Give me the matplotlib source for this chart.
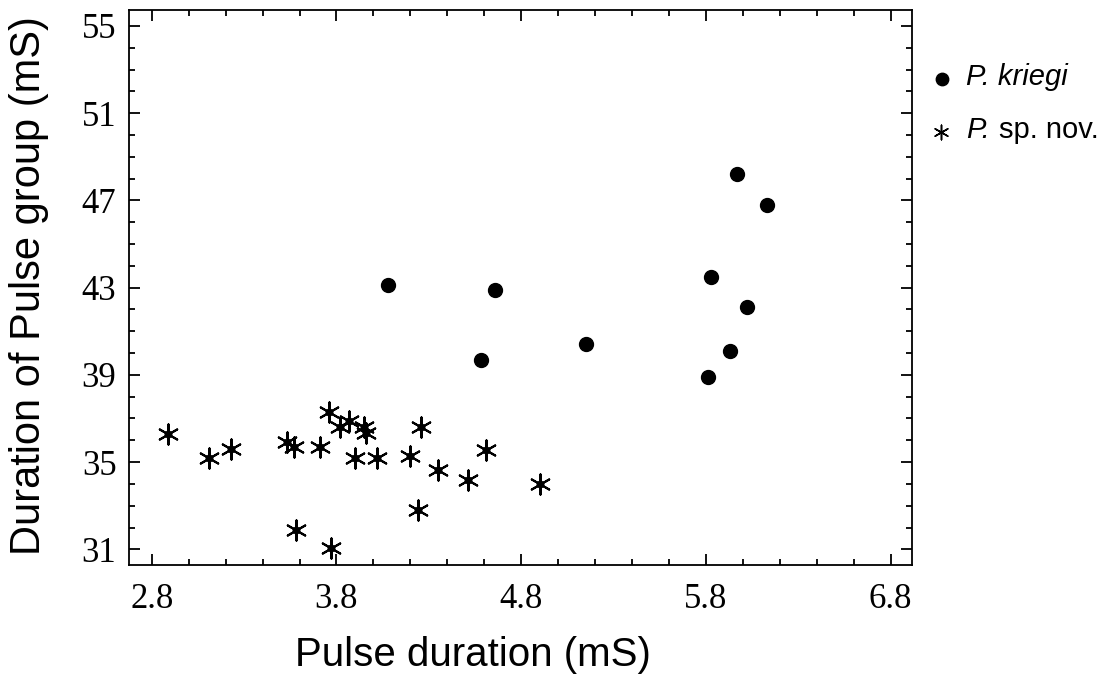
import matplotlib
matplotlib.use("Agg")
import matplotlib.pyplot as plt
from matplotlib.ticker import MultipleLocator, FixedLocator

# P. kriegi (filled dots)
kriegi_x = [4.08, 4.66, 4.58, 5.15, 5.83, 6.02, 5.93, 5.81, 5.97, 6.13]
kriegi_y = [43.1, 42.9, 39.7, 40.4, 43.5, 42.1, 40.1, 38.9, 48.2, 46.8]

# P. sp. nov. (asterisks)
spnov_x = [2.89, 3.11, 3.23, 3.53, 3.57, 3.71, 3.76, 3.82, 3.87, 3.90, 3.95,
           3.96, 4.02, 4.20, 4.26, 4.24, 4.35, 4.51, 4.61, 4.90, 3.58, 3.77]
spnov_y = [36.3, 35.2, 35.6, 35.9, 35.7, 35.7, 37.3, 36.6, 36.9, 35.2, 36.6,
           36.35, 35.2, 35.3, 36.6, 32.8, 34.65, 34.2, 35.55, 34.0, 31.9, 31.05]

x_ticks = [2.8, 3.8, 4.8, 5.8, 6.8]
y_ticks = [31, 35, 39, 43, 47, 51, 55]

fig = plt.figure(figsize=(11.12, 6.77), dpi=100)
ax = fig.add_axes([0.116, 0.1654, 0.7044, 0.8198])

ax.scatter(kriegi_x, kriegi_y, s=100, color="black", marker="o", zorder=3)
ax.scatter(spnov_x, spnov_y, s=210, color="black", marker=(6, 2, 0),
           linewidths=1.5, zorder=3)
ax.scatter(spnov_x, spnov_y, s=22, color="black", marker="o", zorder=4)

ax.set_xlim(2.677, 6.917)
ax.set_ylim(30.28, 55.73)
ax.xaxis.set_major_locator(FixedLocator(x_ticks))
ax.yaxis.set_major_locator(FixedLocator(y_ticks))
ax.xaxis.set_minor_locator(MultipleLocator(0.2))
ax.yaxis.set_minor_locator(MultipleLocator(1))
ax.set_xticklabels([f"{v:.1f}" for v in x_ticks], family="Liberation Serif", fontsize=25)
ax.set_yticklabels([str(v) for v in y_ticks], family="Liberation Serif", fontsize=25)
ax.tick_params(which="both", direction="in", top=True, right=True, width=1.3)
ax.tick_params(which="major", length=8)
ax.tick_params(which="minor", length=4)
ax.tick_params(axis="x", which="major", pad=13)
ax.tick_params(axis="y", which="major", pad=9)
for sp in ax.spines.values():
    sp.set_linewidth(1.3)

fig.text(473 / 1112, 1 - 655 / 677, "Pulse duration (mS)", family="Liberation Sans",
         fontsize=29, ha="center", va="center")
fig.text(0.026, 1 - 286 / 677, "Duration of Pulse group (mS)", family="Liberation Sans",
         fontsize=30, rotation=90, ha="center", va="center")

# Legend (manual)
lax = fig.add_axes([0, 0, 1, 1], facecolor="none")
lax.set_xlim(0, 1112)
lax.set_ylim(677, 0)
lax.axis("off")
lax.scatter([942], [79], s=80, color="black", marker="o")
lax.scatter([941], [132], s=110, color="black", marker=(6, 2, 0), linewidths=1.1)
lax.text(966, 85, "P. kriegi", family="Liberation Sans", style="italic",
         fontsize=21, va="baseline", ha="left")
lax.text(966, 138, "P.", family="Liberation Sans", style="italic",
         fontsize=21, va="baseline", ha="left")
lax.text(999, 138, "sp. nov.", family="Liberation Sans",
         fontsize=21, va="baseline", ha="left")

fig.savefig("out.png", dpi=100)
